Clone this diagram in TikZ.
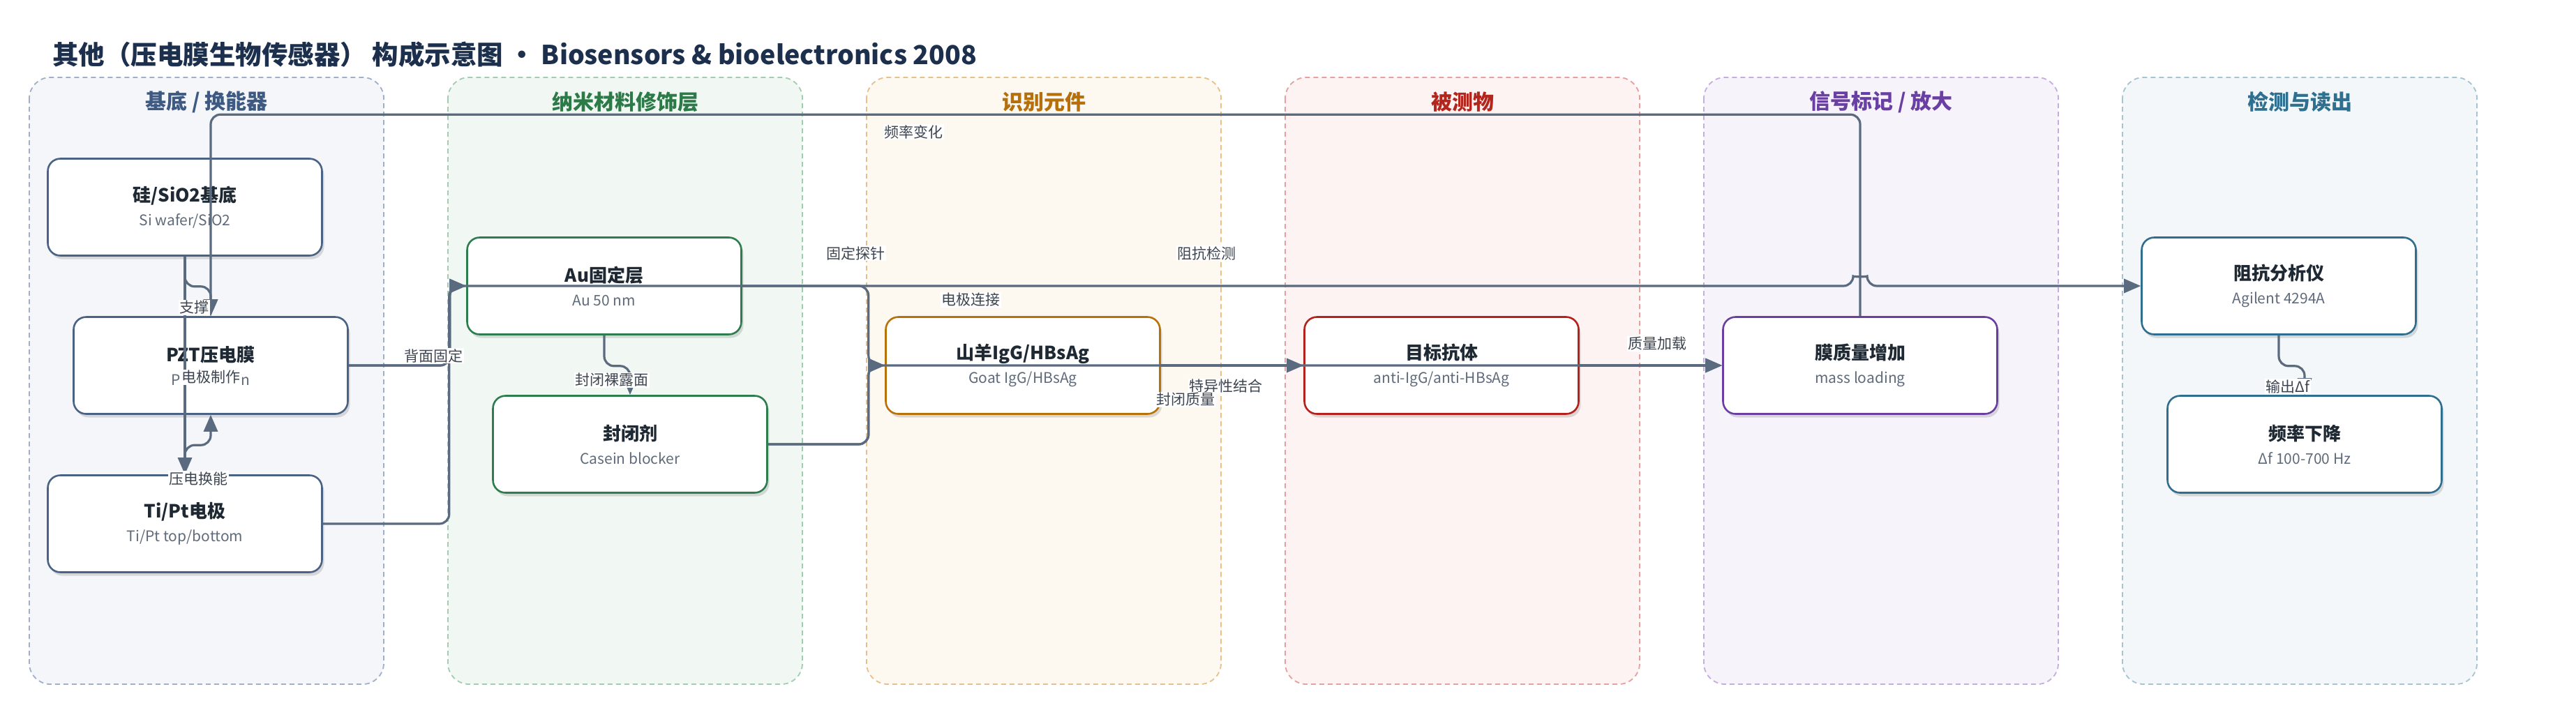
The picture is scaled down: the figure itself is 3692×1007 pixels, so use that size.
\documentclass[tikz,border=0pt]{standalone}
\usepackage{fontspec}
\setmainfont{Noto Sans CJK SC}
\usetikzlibrary{arrows.meta,shadows,calc}
\definecolor{mainT}{HTML}{1C2F4C}
\definecolor{nodeT}{HTML}{1F2933}
\definecolor{subT}{HTML}{5F6B7A}
\definecolor{labT}{HTML}{3D4550}
\definecolor{edgeC}{HTML}{5B6B7F}
\definecolor{bA}{HTML}{9FB0C8}\definecolor{fA}{HTML}{F4F6FA}\definecolor{tA}{HTML}{3E5A82}\definecolor{nA}{HTML}{4A6385}
\definecolor{bB}{HTML}{A3CDB0}\definecolor{fB}{HTML}{F1F8F3}\definecolor{tB}{HTML}{2B7A47}\definecolor{nB}{HTML}{2E7D4F}
\definecolor{bC}{HTML}{E8C08A}\definecolor{fC}{HTML}{FDF8F0}\definecolor{tC}{HTML}{B5700C}\definecolor{nC}{HTML}{B8720A}
\definecolor{bD}{HTML}{E6A0A0}\definecolor{fD}{HTML}{FDF3F3}\definecolor{tD}{HTML}{B3261E}\definecolor{nD}{HTML}{B5221E}
\definecolor{bE}{HTML}{C6ADDF}\definecolor{fE}{HTML}{F6F3FB}\definecolor{tE}{HTML}{6A3FA3}\definecolor{nE}{HTML}{6B3FA0}
\definecolor{bF}{HTML}{A6C4D2}\definecolor{fF}{HTML}{F3F7F9}\definecolor{tF}{HTML}{2F6F8F}\definecolor{nF}{HTML}{2F6E8E}
\begin{document}
\begin{tikzpicture}[x=1pt,y=-1pt,
  lane/.style 2 args={draw=#1, fill=#2, rounded corners=30pt, dash pattern=on 7pt off 5pt, line width=1.8pt},
  lanetitle/.style={font=\fontsize{30}{32}\selectfont\bfseries, text=#1},
  box/.style={draw=#1, fill=white, line width=2.6pt, rounded corners=18pt, minimum width=393pt, minimum height=139pt,
    align=center, inner sep=0pt, text=subT, font=\fontsize{21}{34}\selectfont,
    drop shadow={shadow xshift=3pt, shadow yshift=-5pt, opacity=0.13, fill=black}},
  edge/.style={draw=edgeC, line width=3.2pt, rounded corners=14pt, -{Triangle[length=24pt,width=20pt]}},
  lab/.style={fill=white, inner sep=1.5pt, text=labT, font=\fontsize{21}{24}\selectfont}
]
\newcommand{\ttl}[1]{{\fontsize{26}{34}\selectfont\bfseries\color{nodeT}#1}}
\fill[white] (0,0) rectangle (3692,1007);
\useasboundingbox (0,0) rectangle (3692,1007);

\node[anchor=west, font=\fontsize{37.5}{40}\selectfont\bfseries, text=mainT, inner sep=0pt] (title) at (75,78)
  {其他（压电膜生物传感器） 构成示意图 • Biosensors \& bioelectronics 2008};

% lanes
\path[lane={bA}{fA}] (42,111) rectangle (550,981);
\path[lane={bB}{fB}] (642,111) rectangle (1150,981);
\path[lane={bC}{fC}] (1242,111) rectangle (1750,981);
\path[lane={bD}{fD}] (1842,111) rectangle (2350,981);
\path[lane={bE}{fE}] (2442,111) rectangle (2950,981);
\path[lane={bF}{fF}] (3042,111) rectangle (3550,981);
\node[lanetitle=tA] (lt1) at (296,146) {基底 / 换能器};
\node[lanetitle=tB] (lt2) at (896,146) {纳米材料修饰层};
\node[lanetitle=tC] (lt3) at (1496,146) {识别元件};
\node[lanetitle=tD] (lt4) at (2096,146) {被测物};
\node[lanetitle=tE] (lt5) at (2696,146) {信号标记 / 放大};
\node[lanetitle=tF] (lt6) at (3296,146) {检测与读出};

% nodes
\node[box=nA] (n1) at (265,297) {\ttl{硅/SiO2基底}\\Si wafer/SiO2};
\node[box=nA] (n2) at (302,524) {\ttl{PZT压电膜}\\P\hspace{87pt}n};
\node[box=nA] (n3) at (265,751) {\ttl{Ti/Pt电极}\\Ti/Pt top/bottom};
\node[box=nB] (n4) at (866,410) {\ttl{Au固定层}\\Au 50 nm};
\node[box=nB] (n5) at (903,637) {\ttl{封闭剂}\\Casein blocker};
\node[box=nC] (n6) at (1466,524) {\ttl{山羊IgG/HBsAg}\\Goat IgG/HBsAg};
\node[box=nD] (n7) at (2066,524) {\ttl{目标抗体}\\anti-IgG/anti-HBsAg};
\node[box=nE] (n8) at (2666,524) {\ttl{膜质量增加}\\mass loading};
\node[box=nF] (n9) at (3266,410) {\ttl{阻抗分析仪}\\Agilent 4294A};
\node[box=nF] (n10) at (3303,637) {\ttl{频率下降}\\Δf 100-700 Hz};

% edges
\draw[edge] (n1.south) -- ++(0,43) -| (n2.north);
\draw[edge] (n1.south) -- (n3.north);
\draw[edge] (n3.north) -- ++(0,-42) -| (n2.south);
\draw[edge] (n2.east) -- ++(145,0) |- (n4.west);
\draw[edge] (n3.east) -- ++(181,0) |- (n4.west);
\coordinate (hopL) at ($(n8.north|-n9.west)+(-10,0)$);
\coordinate (hopR) at ($(n8.north|-n9.west)+(10,0)$);
\draw[edge] (n2.east) -- ++(145,0) |- (hopL) .. controls +(0,-13) and +(0,-13) .. (hopR) -- (n9.west);
\draw[edge] (n4.east) -- ++(181,0) |- (n6.west);
\draw[edge] (n5.east) -- ++(144,0) |- (n6.west);
\draw[edge] (n5.east) -- ++(144,0) |- (n8.west);
\draw[edge] (n6.east) -- (n7.west);
\draw[edge] (n7.east) -- (n8.west);
\draw[edge] (n4.south) -- ++(0,44) -| (n5.north);
\draw[edge] (n8.north) -- ++(0,-289) -| (n2.north);
\draw[edge] (n9.south) -- ++(0,44) -| (n10.north);

% labels
\node[lab] (l1) at (278,441) {支撑};
\node[lab] (l2) at (302,541) {电极制作};
\node[lab] (l3) at (284,686) {压电换能};
\node[lab] (l4) at (621,510) {背面固定};
\node[lab] (l5) at (877,545) {封闭裸露面};
\node[lab] (l6) at (1226,363) {固定探针};
\node[lab] (l7) at (1309,189) {频率变化};
\node[lab] (l8) at (1391,430) {电极连接};
\node[lab] (l9) at (1729,363) {阻抗检测};
\node[lab] (l10) at (1757,554) {特异性结合};
\node[lab] (l11) at (1699,573) {封闭质量};
\node[lab] (l12) at (2375,493) {质量加载};
\node[lab] (l13) at (3279,554) {输出Δf};
\end{tikzpicture}
\end{document}
